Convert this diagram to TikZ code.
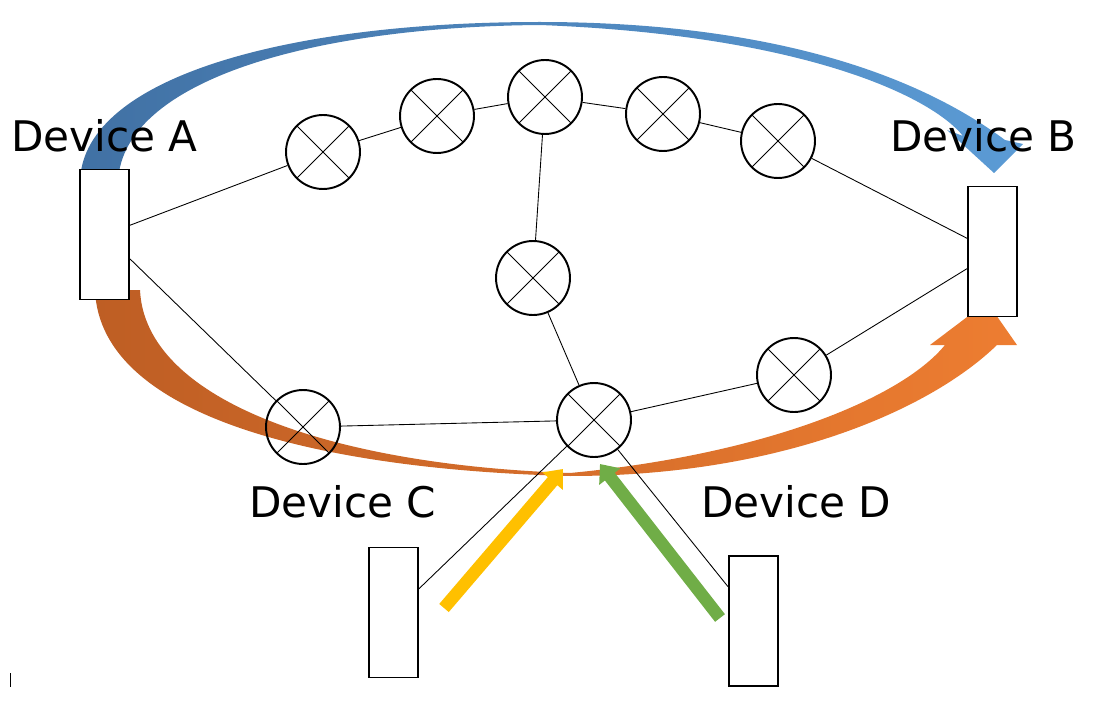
\documentclass[tikz,border=0pt]{standalone}
\usepackage{fontspec}
\setmainfont{DejaVu Sans}
\usetikzlibrary{calc,arrows.meta}

\definecolor{blueleft}{RGB}{65,113,164}
\definecolor{blueright}{RGB}{91,155,213}
\definecolor{orangeleft}{RGB}{190,94,36}
\definecolor{orangeright}{RGB}{237,125,49}
\definecolor{yellowfill}{RGB}{255,192,0}
\definecolor{greenfill}{RGB}{112,173,71}

\begin{document}
\begin{tikzpicture}[x=0.02cm, y=-0.02cm,
	device/.style={rectangle, draw, line width=1.1pt, fill=white, minimum width=0.98cm, minimum height=2.6cm, inner sep=0pt},
	xnode/.style={circle, draw, line width=1.1pt, minimum size=1.48cm, inner sep=0pt,
		path picture={\draw[line width=0.5pt] (path picture bounding box.north west) -- (path picture bounding box.south east)
			(path picture bounding box.north east) -- (path picture bounding box.south west);}},
	wire/.style={line width=0.5pt},
	devlabel/.style={anchor=base west, inner sep=0pt, font=\fontsize{24}{28}\selectfont},
	flowarrow/.style={line width=0.25cm, -{Triangle[width=0.52cm, length=0.32cm]}}]
			\useasboundingbox (0,0) rectangle (1093,706);
			
			% curved arrows A -> B
			\shade[left color=blueleft, right color=blueright]
				(80,185) .. controls (78,80) and (280,22) .. (540,22)
				.. controls (740,22) and (900,62) .. (1005,140)
				-- (1023,144) -- (994,173) -- (947,130) -- (963,136)
				.. controls (930,95) and (800,35) .. (540,25)
				.. controls (300,27) and (118,85) .. (118,185) -- cycle;
			\shade[left color=orangeleft, right color=orangeright]
				(95,290) .. controls (100,420) and (330,470) .. (570,476)
				.. controls (780,476) and (930,410) .. (997,345)
				-- (1017,345) -- (987,302) -- (930,345) -- (945,345)
				.. controls (900,400) and (760,455) .. (570,473)
				.. controls (330,465) and (145,400) .. (140,290) -- cycle;
			
			% devices
			\node[device] (A) at (104.5,234.5) {};
			\node[device] (B) at (992.5,251.5) {};
			\node[device] (C) at (393.5,612.5) {};
			\node[device] (D) at (753.5,621) {};
			
			\node[devlabel] (labA) at (11,152) {Device A};
			\node[devlabel] (labB) at (890,152) {Device B};
			\node[devlabel] (labC) at (249,517) {Device C};
			\node[devlabel] (labD) at (701,517) {Device D};
			
			% switches
			\node[xnode] (s1) at (323,152) {};
			\node[xnode] (s2) at (437,116) {};
			\node[xnode] (s3) at (545,97) {};
			\node[xnode] (s4) at (663,114) {};
			\node[xnode] (s5) at (778,141) {};
			\node[xnode] (s6) at (533,278) {};
			\node[xnode] (s7) at (794,375) {};
			\node[xnode] (s8) at (594,420) {};
			\node[xnode] (s9) at (303,427) {};
			
			% links
			\draw[wire] ($(A.north east)!0.43!(A.south east)$) -- (s1);
			\draw[wire] ($(A.north east)!0.685!(A.south east)$) -- (s9);
			\draw[wire] (s1) -- (s2);
			\draw[wire] (s2) -- (s3);
			\draw[wire] (s3) -- (s4);
			\draw[wire] (s4) -- (s5);
			\draw[wire] (s5) -- ($(B.north west)!0.4!(B.south west)$);
			\draw[wire] (s3) -- (s6);
			\draw[wire] (s6) -- (s8);
			\draw[wire] (s9) -- (s8);
			\draw[wire] (s8) -- (s7);
			\draw[wire] (s7) -- ($(B.north west)!0.63!(B.south west)$);
			\draw[wire] ($(C.north east)!0.32!(C.south east)$) -- (s8);
			\draw[wire] ($(D.north west)!0.24!(D.south west)$) -- (s8);
			
			% straight arrows C, D
			\coordinate (ytail) at (444,608);
			\coordinate (ytip) at (563,469);
			\coordinate (gtail) at (720,618);
			\coordinate (gtip) at (600,464);
			\draw[flowarrow, yellowfill] (ytail) -- (ytip);
			\draw[flowarrow, greenfill] (gtail) -- (gtip);
			
			\draw[wire] (10,673) -- (10,687);
		\end{tikzpicture}
\end{document}
